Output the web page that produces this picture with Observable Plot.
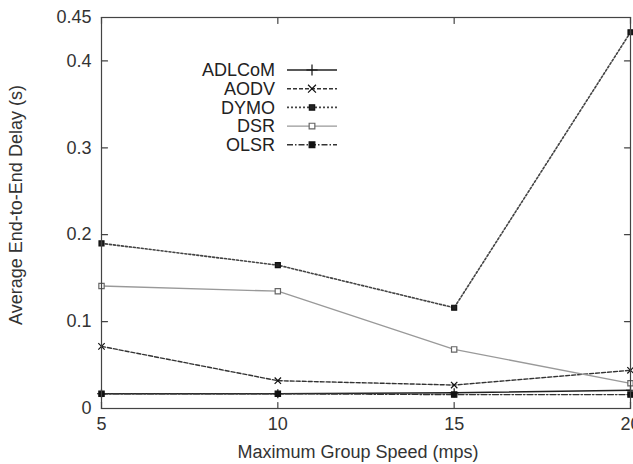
<!DOCTYPE html>
<html><head><meta charset="utf-8">
<script src="https://cdn.jsdelivr.net/npm/d3@7"></script>
<script src="https://cdn.jsdelivr.net/npm/@observablehq/plot@0.6"></script>
<style>
html,body{margin:0;padding:0;background:#fff;overflow:hidden;}
#wrap{position:relative;width:633px;height:464px;}
#legend{position:absolute;left:170px;top:58px;}
</style></head><body><div id="wrap"></div>
<script>
// ---- data ----
const speeds = [5, 10, 15, 20];
const seriesNames = ["ADLCoM", "AODV", "DYMO", "DSR", "OLSR"];
const adlcom = [0.017, 0.017, 0.018, 0.021];
const aodv   = [0.0715, 0.032, 0.027, 0.044];
const dymo   = [0.190, 0.165, 0.116, 0.433];
const dsr    = [0.141, 0.135, 0.068, 0.029];
const olsr   = [0.017, 0.017, 0.016, 0.016];
const xTicks = [5, 10, 15, 20];
const yTicks = [0, 0.1, 0.2, 0.3, 0.4, 0.45];
const xLabel = "Maximum Group Speed (mps)";
const yLabel = "Average End-to-End Delay (s)";

// ---- styles ----
const styles = {
  ADLCoM: {stroke: "#222", dash: null, width: 1.5, symbol: "plus", fill: "none", ds: d3.symbolPlus, r: 3},
  AODV:   {stroke: "#333", dash: "4,2", width: 1.4, symbol: "times", fill: "none", ds: d3.symbolTimes, r: 3},
  DYMO:   {stroke: "#444", dash: "2,2", width: 1.6, symbol: "square", fill: "#222", ds: d3.symbolSquare, r: 2.8},
  DSR:    {stroke: "#999", dash: null, width: 1.3, symbol: "square", fill: "#fff", ds: d3.symbolSquare, r: 3},
  OLSR:   {stroke: "#333", dash: "6,2,1.5,2", width: 1.4, symbol: "square", fill: "#111", ds: d3.symbolSquare, r: 3}
};

const values = [adlcom, aodv, dymo, dsr, olsr];
const rows = seriesNames.flatMap((name, i) => speeds.map((s, j) => ({series: name, speed: s, delay: values[i][j]})));

const seriesMarks = seriesNames.flatMap(name => {
  const st = styles[name];
  const d = rows.filter(r => r.series === name);
  return [
    Plot.line(d, {x: "speed", y: "delay", stroke: st.stroke, strokeWidth: st.width, strokeDasharray: st.dash}),
    Plot.dot(d, {x: "speed", y: "delay", symbol: st.symbol, r: st.r,
      fill: st.fill, stroke: name === "DSR" ? "#666" : "#111", strokeWidth: 1.2})
  ];
});

// inward tick shape for vector marks
const tickShape = {draw(ctx, l) { ctx.moveTo(0, 0); ctx.lineTo(0, -l); }};
const tickStyle = {length: 6, anchor: "start", shape: tickShape, stroke: "#444", strokeWidth: 1.2};

const font = "Liberation Sans, Arial, Helvetica, sans-serif";
const chart = Plot.plot({
  width: 633, height: 464,
  marginLeft: 101, marginRight: 3, marginTop: 17, marginBottom: 56,
  style: {fontFamily: font, fontSize: "18px", color: "#333", background: "#fff"},
  x: {domain: [5, 20]},
  y: {domain: [0, 0.45]},
  marks: [
    Plot.axisX(xTicks, {anchor: "bottom", tickSize: 0, tickPadding: 9, tickFormat: d => String(d), label: null}),
    Plot.axisY(yTicks, {anchor: "left", tickSize: 0, tickPadding: 10, tickFormat: d => String(d), label: null}),
    Plot.vector(xTicks, {x: d => d, frameAnchor: "bottom", rotate: 0, ...tickStyle}),
    Plot.vector(xTicks, {x: d => d, frameAnchor: "top", rotate: 180, ...tickStyle}),
    Plot.vector(yTicks, {y: d => d, frameAnchor: "left", rotate: 90, ...tickStyle}),
    Plot.vector(yTicks, {y: d => d, frameAnchor: "right", rotate: -90, ...tickStyle}),
    Plot.text([xLabel], {text: d => d, frameAnchor: "bottom", dy: 49, dx: -8, fill: "#333"}),
    Plot.text([yLabel], {text: d => d, frameAnchor: "left", textAnchor: "middle", dx: -85, dy: -8, rotate: -90, fill: "#333"}),
    ...seriesMarks,
    Plot.frame({stroke: "#444", strokeWidth: 1.2})
  ]
});
const wrap = document.getElementById("wrap");
wrap.appendChild(chart);

// ---- legend ----
const rowH = 18.7;
const leg = d3.select(wrap).append("svg").attr("id", "legend")
  .attr("width", 180).attr("height", 100)
  .style("font-family", font).style("font-size", "18px");
seriesNames.forEach((name, i) => {
  const st = styles[name];
  const g = leg.append("g").attr("transform", `translate(0,${12 + i * rowH})`);
  g.append("text").attr("x", 105).attr("y", 0).attr("dy", "0.35em").attr("text-anchor", "end")
    .attr("fill", "#222").text(name);
  g.append("line").attr("x1", 117).attr("x2", 167).attr("y1", 0).attr("y2", 0)
    .attr("stroke", st.stroke).attr("stroke-width", st.width).attr("stroke-dasharray", st.dash);
  const area = st.symbol === "square" ? (st.r * 2) ** 2 * 0.9 : Math.PI * st.r * st.r * 1.5;
  g.append("path").attr("d", d3.symbol(st.ds, area)()).attr("transform", "translate(142,0)")
    .attr("fill", st.fill).attr("stroke", name === "DSR" ? "#666" : "#111").attr("stroke-width", 1.2);
});
</script></body></html>
